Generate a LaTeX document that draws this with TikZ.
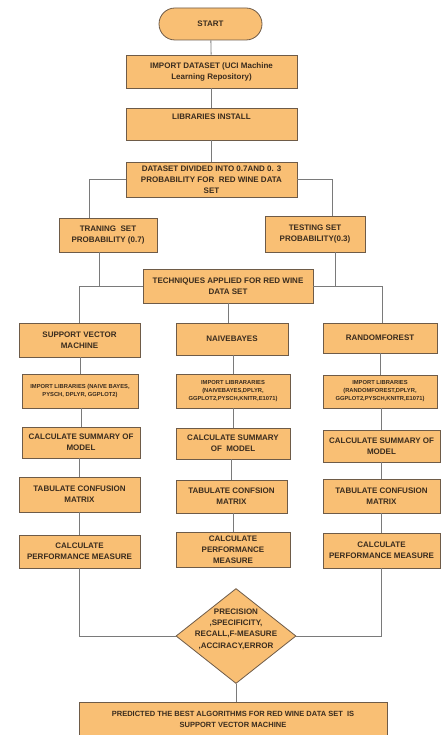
\documentclass[tikz,border=0pt]{standalone}
\usepackage{fontspec}
\setmainfont{Liberation Sans}
\usepackage{tikz}
\usetikzlibrary{positioning,arrows.meta,shapes.geometric,shapes.misc,calc}
\definecolor{boxfill}{HTML}{F9BF74}
\definecolor{boxline}{HTML}{6E5B48}
\definecolor{boxtext}{HTML}{3A2C1E}
\definecolor{wire}{HTML}{7A7A7A}
\tikzset{
  blk/.style   = {draw=boxline, fill=boxfill, text=boxtext, align=center,
                  font=\fontsize{8}{11}\selectfont\bfseries, inner sep=1pt, thick},
  lib/.style   = {blk, font=\fontsize{5.8}{8}\selectfont\bfseries},
  term/.style  = {blk, rounded rectangle},
  crit/.style  = {blk, diamond, inner sep=0pt},
  crittxt/.style = {text=boxtext, align=center, inner sep=0pt, yshift=7pt,
                  font=\fontsize{8}{11.3}\selectfont\bfseries},
  ln/.style    = {draw=wire, line width=0.8pt},
}

\begin{document}
\begin{tikzpicture}[x=1pt, y=-1pt]
\useasboundingbox (0,0) rectangle (440,735);

% ===== top of the chart =====
\node[term, minimum width=105, minimum height=32] (start) at (210.5,24) {START};
\node[blk, minimum width=171, minimum height=33] (import) at (211.5,71.5)
     {IMPORT DATASET (UCI Machine\\Learning Repository)};
\node[blk, minimum width=171, minimum height=32] (libs) at (211.5,124)
     {LIBRARIES INSTALL\\\strut};
\node[blk, minimum width=171, minimum height=35] (divide) at (211.5,179.5)
     {DATASET DIVIDED INTO 0.7AND 0. 3\\PROBABILITY FOR\ \ RED WINE DATA\\SET};
\node[blk, minimum width=98, minimum height=34] (train) at (108,235)
     {TRANING\ \ SET\\PROBABILITY (0.7)};
\node[blk, minimum width=100, minimum height=36] (test) at (315,234)
     {TESTING SET\\PROBABILITY(0.3)};
\node[blk, minimum width=170, minimum height=34] (tech) at (228,286)
     {TECHNIQUES APPLIED FOR RED WINE\\DATA SET};

% ===== three techniques =====
\node[blk, minimum width=121, minimum height=34] (svm) at (79.5,340)
     {SUPPORT VECTOR\\MACHINE};
\node[blk, minimum width=112, minimum height=32] (nb) at (232,339) {NAIVEBAYES};
\node[blk, minimum width=114, minimum height=30] (rf) at (380,338) {RANDOMFOREST};

\node[lib, minimum width=116, minimum height=34] (imp1) at (80,391)
     {IMPORT LIBRARIES (NAIVE BAYES,\\PYSCH, DPLYR, GGPLOT2)};
\node[lib, minimum width=114, minimum height=34] (imp2) at (233,391)
     {IMPORT LIBRARARIES\\(NAIVEBAYES,DPLYR,\\GGPLOT2,PYSCH,KNITR,E1071)};
\node[lib, minimum width=114, minimum height=33] (imp3) at (380,391.5)
     {IMPORT LIBRARIES\\(RANDOMFOREST,DPLYR,\\GGPLOT2,PYSCH,KNITR,E1071)};

\node[blk, minimum width=118, minimum height=31] (sum1) at (81,442.5)
     {CALCULATE SUMMARY OF\\MODEL};
\node[blk, minimum width=114, minimum height=31] (sum2) at (233,443.5)
     {CALCULATE SUMMARY\\OF\ \ MODEL};
\node[blk, minimum width=117, minimum height=32] (sum3) at (381.5,446)
     {CALCULATE SUMMARY OF\\MODEL};

\node[blk, minimum width=121, minimum height=35] (tab1) at (79.5,494.5)
     {TABULATE CONFUSION\\MATRIX};
\node[blk, minimum width=111, minimum height=33] (tab2) at (231.5,496.5)
     {TABULATE CONFSION\\MATRIX};
\node[blk, minimum width=117, minimum height=34] (tab3) at (381.5,496)
     {TABULATE CONFUSION\\MATRIX};

\node[blk, minimum width=121, minimum height=33] (perf1) at (79.5,551.5)
     {CALCULATE\\PERFORMANCE MEASURE};
\node[blk, minimum width=114, minimum height=35] (perf2) at (233,549.5)
     {CALCULATE\\PERFORMANCE\\MEASURE};
\node[blk, minimum width=117, minimum height=35] (perf3) at (381.5,550.5)
     {CALCULATE\\PERFORMANCE MEASURE};

% ===== result =====
\node[crit, minimum width=120, minimum height=95,
      label={[crittxt]center:{PRECISION\\,SPECIFICITY,\\RECALL,F-MEASURE\\,ACCIRACY,ERROR}}]
     (measure) at (236,636) {};
\node[blk, minimum width=308, minimum height=40, anchor=north,
      font=\fontsize{7.5}{11}\selectfont\bfseries, text depth=6pt] (best) at (233,702)
     {PREDICTED THE BEST ALGORITHMS FOR RED WINE DATA SET\ \ IS\\SUPPORT VECTOR MACHINE};

% ===== connections =====
\coordinate (jl) at (79,286);
\coordinate (jr) at (382,286);
\draw[ln] (start) -- (import);
\draw[ln] (import) -- (libs);
\draw[ln] (libs) -- (divide);
\draw[ln] (divide.west) -| ([xshift=-19pt]train.north);
\draw[ln] (divide.east) -| ([xshift=17pt]test.north);
\draw[ln] ([xshift=-9pt]train.south) -- ([xshift=-9pt]train.south |- jl);
\draw[ln] ([xshift=20pt]test.south) -- ([xshift=20pt]test.south |- jr);
\draw[ln] (jl) -- (tech.west);
\draw[ln] (tech.east) -- (jr);
\draw[ln] (jl) -- (jl |- svm.north);
\draw[ln] (jr) -- (jr |- rf.north);
\draw[ln] (tech.south) -- (tech.south |- nb.north);
\foreach \a/\b in {svm/imp1,imp1/sum1,sum1/tab1,tab1/perf1,
                   nb/imp2,imp2/sum2,sum2/tab2,tab2/perf2,
                   rf/imp3,imp3/sum3,sum3/tab3,tab3/perf3}
  {\draw[ln] (\b.north |- \a.south) -- (\b.north);}
\draw[ln] (perf1.south) |- (measure.west);
\draw[ln] (perf3.south) |- (measure.east);
\draw[ln] (measure.south) -- (measure.south |- best.north);
\end{tikzpicture}
\end{document}
